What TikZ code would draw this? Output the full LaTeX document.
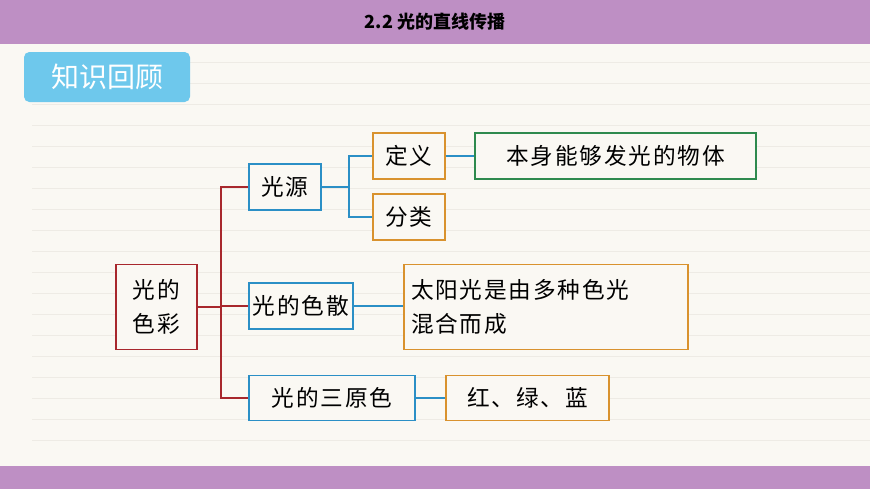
\documentclass[tikz,border=0pt]{standalone}
\usepackage{fontspec}
\newfontfamily\cjk[LetterSpace=8]{Noto Sans CJK SC}
\newfontfamily\cjktitle{Noto Sans CJK SC}
\usetikzlibrary{positioning}
\definecolor{barpurple}{HTML}{BE8FC4}
\definecolor{paper}{HTML}{FAF8F3}
\definecolor{ruleline}{HTML}{EEEBE5}
\definecolor{tagblue}{HTML}{6EC8EC}
\definecolor{rootred}{HTML}{A8272D}
\definecolor{lvlblue}{HTML}{2B8FC6}
\definecolor{leaforange}{HTML}{D9922E}
\definecolor{leafgreen}{HTML}{2E8A4E}
\tikzset{
  box/.style={draw,line width=0.9pt,fill=paper,inner sep=0pt,font=\cjk\fontsize{17}{25}\selectfont,align=left},
  rootbox/.style={box,draw=rootred},
  midbox/.style={box,draw=lvlblue},
  leafbox/.style={box,draw=leaforange},
  defbox/.style={box,draw=leafgreen},
  link/.style={line width=0.9pt}
}
\begin{document}
\begin{tikzpicture}[x=0.75pt,y=-0.75pt]
  \useasboundingbox (0,0) rectangle (870,489);
  \fill[paper] (0,0) rectangle (870,489);
  \foreach \y in {62,83,...,460}
    \draw[ruleline,line width=0.6pt] (32,\y) -- (870,\y);
  \fill[barpurple] (0,0) rectangle (870,44);
  \fill[barpurple] (0,466) rectangle (870,489);
  \node (title) at (435,22) {\cjktitle\bfseries\fontsize{13.5}{15}\selectfont 2.2 光的直线传播};
  \fill[tagblue,rounded corners=4pt] (24,52) rectangle (190,102);
  \node[text=white] (tag) at (107,77) {\cjktitle\fontsize{21}{24}\selectfont 知识回顾};
  % boxes
  \node[rootbox,minimum width=81*0.75pt,minimum height=85*0.75pt,align=center] (root) at (156.5,307) {光的\\色彩};
  \node[midbox,minimum width=72*0.75pt,minimum height=46*0.75pt] (src) at (285,187) {光源};
  \node[midbox,minimum width=104*0.75pt,minimum height=46*0.75pt] (disp) at (301,306) {光的色散};
  \node[midbox,minimum width=166*0.75pt,minimum height=45*0.75pt] (prim) at (332,398) {光的三原色};
  \node[leafbox,minimum width=72*0.75pt,minimum height=46*0.75pt] (def) at (409,156) {定义};
  \node[leafbox,minimum width=72*0.75pt,minimum height=46*0.75pt] (cls) at (409,217) {分类};
  \node[defbox,minimum width=281*0.75pt,minimum height=46*0.75pt] (defn) at (615.5,156) {本身能够发光的物体};
  \node[leafbox,minimum width=284*0.75pt,minimum height=85*0.75pt,text width=270*0.75pt] (sun) at (546,307) {太阳光是由多种色光\\混合而成};
  \node[leafbox,minimum width=163*0.75pt,minimum height=45*0.75pt] (rgb) at (527.5,398) {红、绿、蓝};
  % connectors
  \coordinate (rj) at (221,307);
  \draw[link,rootred] (root.east) -- (rj);
  \foreach \t in {src,disp,prim}
    \draw[link,rootred] (rj) |- (\t.west);
  \coordinate (sj) at (349,187);
  \draw[link,lvlblue] (src.east) -- (sj);
  \foreach \t in {def,cls}
    \draw[link,lvlblue] (sj) |- (\t.west);
  \draw[link,lvlblue] (def.east) -- (defn.west);
  \draw[link,lvlblue] (disp.east) -- (sun.west |- disp.east);
  \draw[link,lvlblue] (prim.east) -- (rgb.west);
\end{tikzpicture}
\end{document}
